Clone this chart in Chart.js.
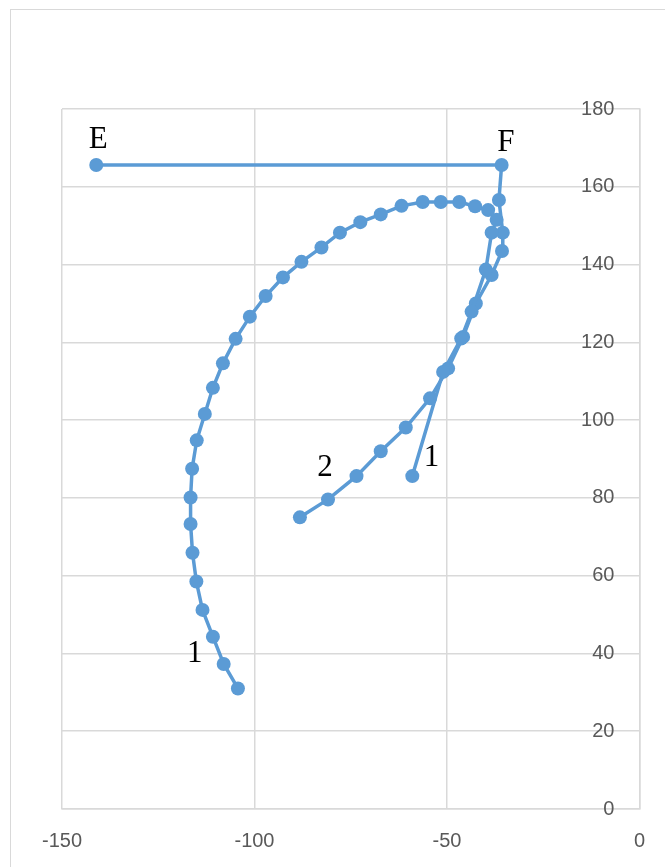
<!DOCTYPE html>
<html>
<head>
<meta charset="utf-8">
<script src="https://cdn.jsdelivr.net/npm/chart.js@4.4.1/dist/chart.umd.min.js"></script>
<style>
  html, body { margin: 0; padding: 0; background: #fff; overflow: hidden; }
  #frame { position: absolute; left: 10px; top: 9px; width: 700px; height: 900px; border: 1px solid #d9d9d9; }
  #wrap { position: absolute; left: 0; top: 0; width: 665px; height: 867px; }
</style>
</head>
<body>
<div id="frame"></div>
<div id="wrap"><canvas id="chart" width="665" height="867"></canvas></div>
<script>
// outer curve, labelled "1" at the bottom left
const curve1X = [-104.3, -108.0, -110.8, -113.5, -115.1, -116.1, -116.6, -116.6, -116.2, -115.0,
  -112.9, -110.8, -108.2, -104.9, -101.2, -97.1, -92.6, -87.8, -82.6, -77.8,
  -72.5, -67.2, -61.8, -56.3, -51.6, -46.8, -42.7, -39.3, -37.1, -38.4,
  -39.9, -43.6, -46.3, -51.0, -59.0];
const curve1Y = [31.0, 37.3, 44.3, 51.2, 58.5, 65.9, 73.3, 80.1, 87.5, 94.8,
  101.6, 108.3, 114.6, 120.9, 126.6, 131.9, 136.7, 140.7, 144.4, 148.2,
  150.9, 152.9, 155.1, 156.1, 156.1, 156.1, 155.0, 154.0, 151.5, 148.2,
  138.7, 127.9, 121.0, 112.4, 85.6];

// inner curve "2", running up to F and across to E
const curve2X = [-88.2, -80.9, -73.5, -67.2, -60.7, -54.4, -49.7, -45.8, -42.5, -38.4,
  -35.7, -35.5, -36.5, -35.8, -141.1];
const curve2Y = [75.0, 79.6, 85.6, 92.0, 98.1, 105.6, 113.3, 121.4, 130.0, 137.3,
  143.5, 148.2, 156.6, 165.6, 165.6];

const xTicks = [-150, -100, -50, 0];
const yTicks = [0, 20, 40, 60, 80, 100, 120, 140, 160, 180];

// text notes on the plot, in data units
const noteText = ['E', 'F', '1', '2', '1'];
const noteX = [-140.6, -34.7, -115.5, -81.7, -54.0];
const noteY = [172.0, 171.3, 40.0, 87.6, 90.2];

const blue = '#5b9bd5';
const toPoints = (xs, ys) => xs.map((x, i) => ({ x, y: ys[i] }));

const notesPlugin = {
  id: 'notes',
  afterDatasetsDraw(chart) {
    const { ctx, scales: { x, y } } = chart;
    ctx.save();
    ctx.font = '31px "Liberation Serif", serif';
    ctx.fillStyle = '#000';
    ctx.textAlign = 'center';
    ctx.textBaseline = 'middle';
    noteText.forEach((t, i) => {
      ctx.fillText(t, x.getPixelForValue(noteX[i]), y.getPixelForValue(noteY[i]));
    });
    ctx.restore();
  }
};

const series = (xs, ys) => ({
  data: toPoints(xs, ys),
  showLine: true,
  borderColor: blue,
  backgroundColor: blue,
  borderWidth: 3.5,
  pointRadius: 7,
  pointBorderWidth: 0,
  pointHoverRadius: 7
});

new Chart(document.getElementById('chart').getContext('2d'), {
  type: 'scatter',
  data: { datasets: [series(curve1X, curve1Y), series(curve2X, curve2Y)] },
  options: {
    responsive: false,
    animation: false,
    layout: { padding: { left: 62, right: 25, top: 109, bottom: 0 } },
    plugins: { legend: { display: false }, tooltip: { enabled: false } },
    scales: {
      x: {
        type: 'linear', min: -150, max: 0,
        afterBuildTicks: s => { s.ticks = xTicks.map(v => ({ value: v })); },
        afterFit: s => { s.height = 58; },
        grid: { color: '#d9d9d9', lineWidth: 1.5, drawTicks: false },
        border: { color: '#d9d9d9', width: 1.5 },
        ticks: { color: '#595959', font: { family: '"Liberation Sans", sans-serif', size: 20 }, padding: 20 }
      },
      y: {
        type: 'linear', position: 'right', min: 0, max: 180,
        afterBuildTicks: s => { s.ticks = yTicks.map(v => ({ value: v })); },
        afterFit: s => { s.width = 0; },
        grid: { color: '#d9d9d9', lineWidth: 1.5, drawTicks: false },
        border: { color: '#d9d9d9', width: 1.5 },
        ticks: { color: '#595959', font: { family: '"Liberation Sans", sans-serif', size: 20 }, mirror: true, padding: -25 }
      }
    }
  },
  plugins: [notesPlugin]
});
</script>
</body>
</html>
